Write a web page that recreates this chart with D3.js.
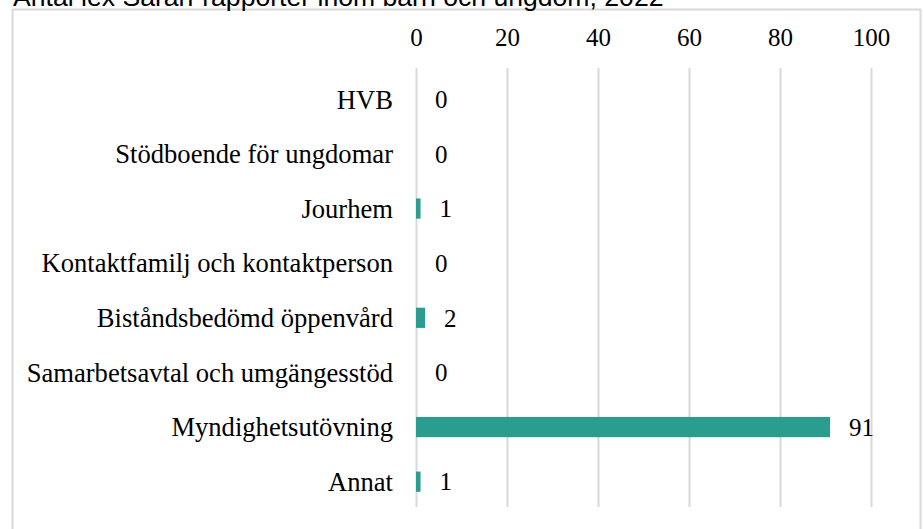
<!DOCTYPE html>
<html>
<head>
<meta charset="utf-8">
<script src="https://cdn.jsdelivr.net/npm/d3@7"></script>
<style>
	body { margin: 0; background: #fff; }
	svg { display: block; }
</style>
</head>
<body>
<div id="chart"></div>
<script>
let width = 923
let height = 529

let title = 'Antal lex Sarah-rapporter inom barn och ungdom, 2022'

let categories = [
	'HVB',
	'Stödboende för ungdomar',
	'Jourhem',
	'Kontaktfamilj och kontaktperson',
	'Biståndsbedömd öppenvård',
	'Samarbetsavtal och umgängesstöd',
	'Myndighetsutövning',
	'Annat',
]
let values = [0, 0, 1, 0, 2, 0, 91, 1]
let ticks = [0, 20, 40, 60, 80, 100]

let margins = {
	top : 72,
	left : 416,
	right : 52,
	bottom : 20,
}

let xScale = d3.scaleLinear()
	.domain([0, 100])
	.range([margins.left, width - margins.right])

let yScale = d3.scaleBand()
	.domain(categories)
	.range([margins.top, height - margins.bottom])
	.paddingInner(0.63)
	.paddingOuter(0.315)

let svg = d3.select('#chart').append('svg')
	.attr('width', width)
	.attr('height', height)

// frame round the plot, open at the bottom
svg.append('rect')
	.attr('x', 12.5)
	.attr('y', 9.5)
	.attr('width', 908)
	.attr('height', 600)
	.attr('fill', 'none')
	.attr('stroke', '#d9d9d9')
	.attr('stroke-width', 2)

svg.append('text')
	.text(title)
	.attr('x', 13)
	.attr('y', 6)
	.attr('font-family', 'Liberation Sans, Arial, sans-serif')
	.attr('font-size', 26.6)
	.attr('fill', '#000')

let xAxis = d3.axisTop(xScale)
	.tickValues(ticks)
	.tickSize(-(507 - 68))
	.tickPadding(0)

let axisG = svg.append('g')
	.attr('transform', 'translate(0,68)')
	.call(xAxis)

axisG.select('.domain').remove()
axisG.selectAll('.tick line')
	.attr('stroke', '#d9d9d9')
	.attr('stroke-width', 2)
axisG.selectAll('.tick text')
	.attr('y', -22)
	.attr('font-family', 'Liberation Serif, Times New Roman, serif')
	.attr('font-size', 25)
	.attr('fill', '#000')

let labels = svg.append('g')
labels.selectAll('text')
	.data(categories)
	.enter()
	.append('text')
	.text((d) => d)
	.attr('x', 393)
	.attr('y', (d) => yScale(d) + yScale.bandwidth() / 2)
	.attr('dy', '0.35em')
	.attr('text-anchor', 'end')
	.attr('font-family', 'Liberation Serif, Times New Roman, serif')
	.attr('font-size', 26.6)
	.attr('fill', '#000')

let marks = svg.append('g')
marks.selectAll('rect')
	.data(values)
	.enter()
	.append('rect')
	.attr('x', xScale(0))
	.attr('y', (d, i) => yScale(categories[i]))
	.attr('width', (d) => xScale(d) - xScale(0))
	.attr('height', yScale.bandwidth())
	.attr('fill', '#2a9d8f')

let valueLabels = svg.append('g')
valueLabels.selectAll('text')
	.data(values)
	.enter()
	.append('text')
	.text((d) => d)
	.attr('x', (d) => xScale(d) + 19)
	.attr('y', (d, i) => yScale(categories[i]) + yScale.bandwidth() / 2)
	.attr('dy', '0.35em')
	.attr('font-family', 'Liberation Serif, Times New Roman, serif')
	.attr('font-size', 25)
	.attr('fill', '#000')
</script>
</body>
</html>
